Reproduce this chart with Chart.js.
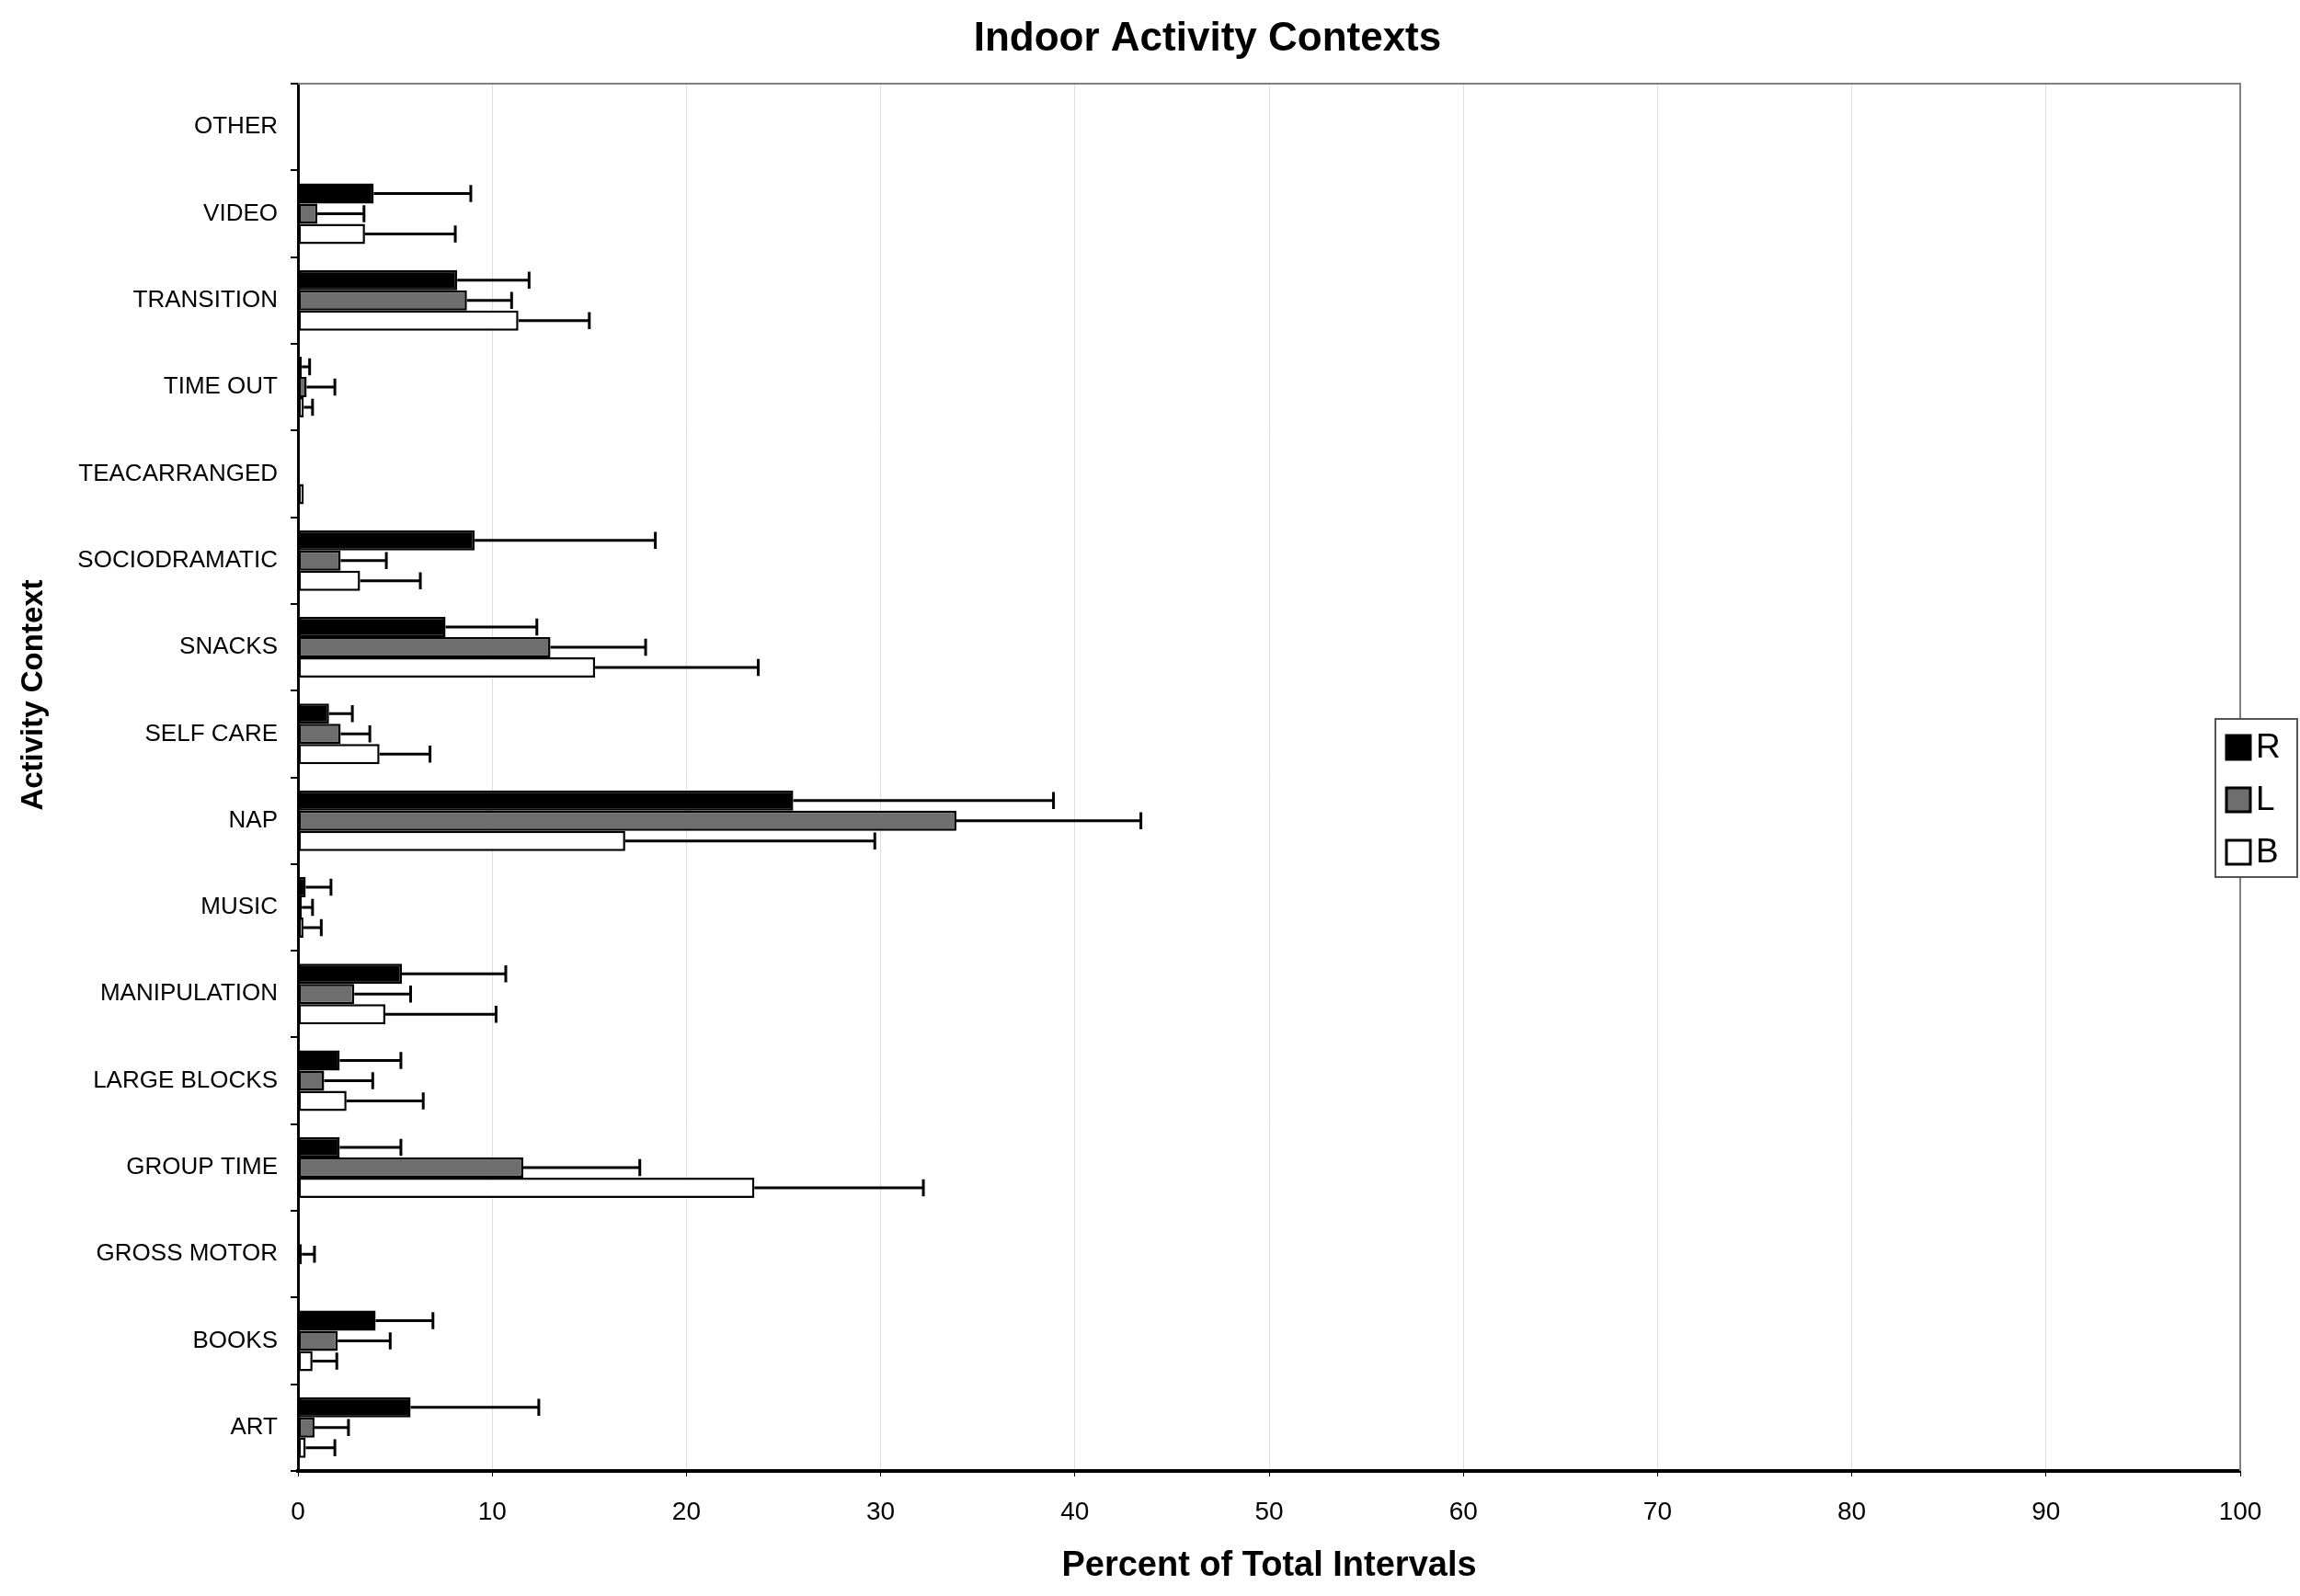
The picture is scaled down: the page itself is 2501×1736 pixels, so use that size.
<!DOCTYPE html>
<html>
<head>
<meta charset="utf-8">
<title>Indoor Activity Contexts</title>
<script src="https://cdn.jsdelivr.net/npm/chart.js@4/dist/chart.umd.min.js"></script>
<style>
  body { margin: 0; background: #fff; }
  #wrap { width: 2501px; height: 1736px; }
</style>
</head>
<body>
<div id="wrap"><canvas id="chart" width="2501" height="1736"></canvas></div>
<script>
// categories, top to bottom
const labels = ['OTHER', 'VIDEO', 'TRANSITION', 'TIME OUT', 'TEACARRANGED', 'SOCIODRAMATIC', 'SNACKS',
  'SELF CARE', 'NAP', 'MUSIC', 'MANIPULATION', 'LARGE BLOCKS', 'GROUP TIME', 'GROSS MOTOR', 'BOOKS', 'ART'];

// mean values and upper end of error bars (percent)
const rMean = [0, 3.9, 8.2, 0.2, 0, 9.1, 7.6, 1.6, 25.5, 0.4, 5.35, 2.15, 2.15, 0, 4.0, 5.8];
const rHigh = [0, 8.9, 11.9, 0.6, 0, 18.4, 12.3, 2.8, 38.9, 1.7, 10.7, 5.3, 5.3, 0, 6.95, 12.4];
const lMean = [0, 1.0, 8.7, 0.45, 0, 2.2, 13.0, 2.2, 33.9, 0.2, 2.9, 1.35, 11.6, 0.2, 2.05, 0.85];
const lHigh = [0, 3.4, 11.0, 1.9, 0, 4.55, 17.9, 3.7, 43.4, 0.75, 5.8, 3.85, 17.6, 0.85, 4.75, 2.6];
const bMean = [0, 3.45, 11.35, 0.3, 0.3, 3.2, 15.3, 4.2, 16.85, 0.28, 4.5, 2.5, 23.5, 0, 0.75, 0.4];
const bHigh = [0, 8.1, 15.0, 0.75, 0, 6.3, 23.7, 6.8, 29.7, 1.2, 10.2, 6.45, 32.2, 0, 2.0, 1.9];

const xTicks = [0, 10, 20, 30, 40, 50, 60, 70, 80, 90, 100];

const narrow = '"Liberation Sans Narrow", "Arial Narrow", "Liberation Sans", Arial, sans-serif';
const sans = '"Liberation Sans", Arial, sans-serif';

// error bars: line from bar end to upper value, with a cap
const errorBars = {
  id: 'errorBars',
  afterDatasetsDraw(chart) {
    const ctx = chart.ctx;
    const xs = chart.scales.x;
    ctx.save();
    ctx.strokeStyle = '#000';
    ctx.lineWidth = 3;
    chart.data.datasets.forEach((ds, i) => {
      const meta = chart.getDatasetMeta(i);
      meta.data.forEach((bar, j) => {
        const hi = ds.high[j];
        if (!hi || hi <= ds.data[j]) return;
        const xEnd = xs.getPixelForValue(hi);
        const h = bar.height * 0.42;
        ctx.beginPath();
        ctx.moveTo(bar.x, bar.y);
        ctx.lineTo(xEnd, bar.y);
        ctx.moveTo(xEnd, bar.y - h);
        ctx.lineTo(xEnd, bar.y + h);
        ctx.stroke();
      });
    });
    ctx.restore();
  }
};

// frame, title, y title and legend box
const decor = {
  id: 'decor',
  beforeDatasetsDraw(chart) {
    const { ctx, chartArea: a } = chart;
    ctx.save();
    ctx.strokeStyle = '#808080';
    ctx.lineWidth = 2;
    ctx.beginPath();
    ctx.moveTo(a.left, a.top);
    ctx.lineTo(a.right, a.top);
    ctx.lineTo(a.right, a.bottom);
    ctx.stroke();
    ctx.restore();
  },
  afterDraw(chart) {
    const ctx = chart.ctx;
    ctx.save();
    ctx.fillStyle = '#000';
    ctx.textAlign = 'center';
    ctx.textBaseline = 'middle';
    ctx.font = 'bold 44px ' + sans;
    ctx.fillText('Indoor Activity Contexts', 1313, 43);

    ctx.translate(37, 756);
    ctx.rotate(-Math.PI / 2);
    ctx.font = 'bold 33px ' + sans;
    ctx.fillText('Activity Context', 0, 0);
    ctx.restore();

    // legend
    ctx.save();
    const lx = 2409, ly = 782, lw = 89, lh = 172;
    ctx.fillStyle = '#fff';
    ctx.fillRect(lx, ly, lw, lh);
    ctx.strokeStyle = '#555';
    ctx.lineWidth = 2;
    ctx.strokeRect(lx, ly, lw, lh);
    ctx.font = '37px ' + sans;
    ctx.textAlign = 'left';
    ctx.textBaseline = 'middle';
    chart.data.datasets.forEach((ds, i) => {
      const cy = 813 + i * 57;
      ctx.fillStyle = ds.backgroundColor;
      ctx.fillRect(lx + 12, cy - 13, 26, 26);
      ctx.strokeStyle = '#000';
      ctx.lineWidth = 3;
      ctx.strokeRect(lx + 12, cy - 13, 26, 26);
      ctx.fillStyle = '#000';
      ctx.fillText(ds.label, lx + 44, cy + 1);
    });
    ctx.restore();
  }
};

function series(label, data, high, color) {
  return {
    label: label,
    data: data,
    high: high,
    backgroundColor: color,
    borderColor: '#000',
    borderWidth: 2.5,
    borderSkipped: false,
    categoryPercentage: 0.7,
    barPercentage: 1.0
  };
}

new Chart(document.getElementById('chart'), {
  type: 'bar',
  data: {
    labels: labels,
    datasets: [
      series('R', rMean, rHigh, '#000000'),
      series('L', lMean, lHigh, '#6e6e6e'),
      series('B', bMean, bHigh, '#ffffff')
    ]
  },
  options: {
    indexAxis: 'y',
    responsive: false,
    animation: false,
    layout: { padding: { top: 91, right: 65, left: 0, bottom: 0 } },
    plugins: {
      legend: { display: false },
      title: { display: false },
      tooltip: { enabled: false }
    },
    scales: {
      x: {
        min: 0,
        max: 100,
        afterBuildTicks(scale) { scale.ticks = xTicks.map(v => ({ value: v })); },
        afterFit(scale) { scale.height = 136; },
        grid: { color: '#dedede', lineWidth: 1, tickLength: 6, tickColor: '#000' },
        border: { color: '#000', width: 4 },
        ticks: { color: '#000', font: { family: narrow, size: 28 }, padding: 22 },
        title: {
          display: true,
          text: 'Percent of Total Intervals',
          color: '#000',
          font: { family: sans, size: 38, weight: 'bold' },
          padding: { top: 0, bottom: 10 }
        }
      },
      y: {
        afterFit(scale) { scale.width = 324; },
        grid: { drawOnChartArea: false, offset: true, tickLength: 8, tickColor: '#000', lineWidth: 2 },
        border: { color: '#000', width: 3 },
        ticks: { color: '#000', font: { family: narrow, size: 26 }, padding: 14, autoSkip: false }
      }
    }
  },
  plugins: [decor, errorBars]
});
</script>
</body>
</html>
